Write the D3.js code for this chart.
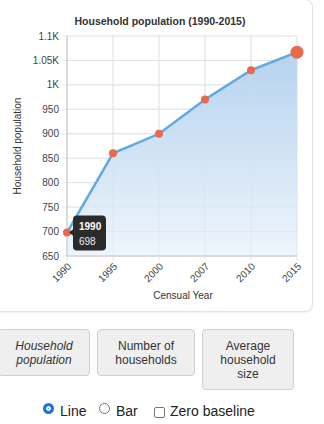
<!DOCTYPE html>
<html><head><meta charset="utf-8">
<script src="https://cdn.jsdelivr.net/npm/d3@7"></script>
<style>
html,body{margin:0;padding:0;background:#fff;width:324px;height:424px;overflow:hidden;font-family:"Liberation Sans",Arial,sans-serif;}
#card{position:absolute;left:-8px;top:-1px;width:319px;height:311px;border:1px solid #e3e3e3;border-radius:8px;background:#fff;box-shadow:0 1px 2px rgba(0,0,0,0.06);}
#chart{position:absolute;left:0;top:0;}
.btn{position:absolute;box-sizing:border-box;background:#efefef;border:1px solid #cfcfcf;border-radius:4px;font-size:12px;color:#333;text-align:center;line-height:14px;display:flex;align-items:center;justify-content:center;}
#ctrls{position:absolute;top:402px;left:0;width:324px;font-size:14px;color:#222;}
#ctrls span{position:absolute;top:0;}
.radio{position:absolute;width:11px;height:11px;border-radius:50%;box-sizing:border-box;}
</style></head>
<body>
<div id="card"></div>
<svg id="chart" width="324" height="320"></svg>
<div class="btn" style="left:-2px;top:329px;width:92px;height:47px;font-style:italic;">Household<br>population</div>
<div class="btn" style="left:97px;top:329px;width:98px;height:47px;">Number of<br>households</div>
<div class="btn" style="left:202px;top:329px;width:92px;height:61px;">Average<br>household<br>size</div>
<div id="ctrls">
  <div class="radio" style="left:43px;top:1px;background:#1a73e8;border:3px solid #1a73e8;box-shadow:inset 0 0 0 2px #fff;"></div>
  <span style="left:60px;top:1px;">Line</span>
  <div class="radio" style="left:99px;top:1px;border:1px solid #767676;background:#fff;"></div>
  <span style="left:116px;top:1px;">Bar</span>
  <div style="position:absolute;left:154px;top:5px;width:11px;height:11px;border:1px solid #767676;border-radius:2px;box-sizing:border-box;background:#fff;"></div>
  <span style="left:170px;top:1px;">Zero baseline</span>
</div>
<script>
const years = ["1990","1995","2000","2007","2010","2015"];
const population = [698, 860, 900, 970, 1030, 1067];
const yTicks = [650, 700, 750, 800, 850, 900, 950, 1000, 1050, 1100];
const titleText = "Household population (1990-2015)";
const yLabel = "Household population";
const xLabel = "Censual Year";

const svg = d3.select("#chart");
const pL = 67, pR = 297, pT = 36, pB = 256;
const x = d3.scalePoint().domain(years).range([pL, pR]);
const y = d3.scaleLinear().domain([650, 1100]).range([pB, pT]);
const fmt = d => d >= 1000 ? d3.format("~s")(d).toUpperCase() : String(d);

const defs = svg.append("defs");
const grad = defs.append("linearGradient").attr("id","ag").attr("x1",0).attr("y1",0).attr("x2",0).attr("y2",1);
grad.append("stop").attr("offset","0%").attr("stop-color","#b5d3ef");
grad.append("stop").attr("offset","100%").attr("stop-color","#eef5fc");

// grid (with small outer ticks)
svg.append("g").selectAll("line").data(yTicks).join("line")
  .attr("x1", pL-5).attr("x2", pR).attr("y1", d=>y(d)).attr("y2", d=>y(d))
  .attr("stroke","#e6e6e6").attr("stroke-width",1);
svg.append("g").selectAll("line").data(years).join("line")
  .attr("x1", d=>x(d)).attr("x2", d=>x(d)).attr("y1", pT).attr("y2", pB+5)
  .attr("stroke","#e6e6e6").attr("stroke-width",1);

const data = years.map((yr,i)=>({yr, v:population[i]}));
svg.append("path").datum(data)
  .attr("d", d3.area().x(d=>x(d.yr)).y0(pB).y1(d=>y(d.v)))
  .attr("fill","url(#ag)");
// grid over area (faint)
svg.append("g").selectAll("line").data(yTicks).join("line")
  .attr("x1", pL).attr("x2", pR).attr("y1", d=>y(d)).attr("y2", d=>y(d))
  .attr("stroke","#d8dde3").attr("stroke-opacity",0.45);
svg.append("g").selectAll("line").data(years).join("line")
  .attr("x1", d=>x(d)).attr("x2", d=>x(d)).attr("y1", pT).attr("y2", pB)
  .attr("stroke","#d8dde3").attr("stroke-opacity",0.45);

// axes lines
svg.append("line").attr("x1",pL).attr("x2",pL).attr("y1",pT).attr("y2",pB).attr("stroke","#c8c8c8");
svg.append("line").attr("x1",pL).attr("x2",pR).attr("y1",pB).attr("y2",pB).attr("stroke","#c8c8c8");

// y ticks
svg.append("g").selectAll("text").data(yTicks).join("text")
  .attr("x", pL-8).attr("y", d=>y(d)).attr("dy","0.35em")
  .attr("text-anchor","end").attr("font-size","10px").attr("fill","#444")
  .text(fmt);
// x ticks
svg.append("g").selectAll("text").data(years).join("text")
  .attr("transform", d=>`translate(${x(d)},${pB+6}) rotate(-45)`)
  .attr("text-anchor","end").attr("dy","0.7em").attr("font-size","10px").attr("fill","#444")
  .text(d=>d);

// line
svg.append("path").datum(data)
  .attr("d", d3.line().x(d=>x(d.yr)).y(d=>y(d.v)))
  .attr("fill","none").attr("stroke","#62a9df").attr("stroke-width",2.5);

// dots
svg.append("g").selectAll("circle").data(data).join("circle")
  .attr("cx", d=>x(d.yr)).attr("cy", d=>y(d.v))
  .attr("r", (d,i)=> i===data.length-1 ? 6.5 : 4)
  .attr("fill","#e9694b");

// titles
svg.append("text").attr("x",160).attr("y",25).attr("text-anchor","middle")
  .attr("font-size","10.5px").attr("font-weight","bold").attr("fill","#333").text(titleText);
svg.append("text").attr("transform",`translate(21,146) rotate(-90)`).attr("text-anchor","middle")
  .attr("font-size","10px").attr("fill","#333").text(yLabel);
svg.append("text").attr("x",183).attr("y",299).attr("text-anchor","middle")
  .attr("font-size","10px").attr("fill","#333").text(xLabel);

// tooltip
const d0 = data[0];
const tx = x(d0.yr)+6, ty = y(d0.v);
const tt = svg.append("g");
tt.append("rect").attr("x",tx).attr("y",ty-17).attr("width",33).attr("height",35).attr("rx",4).attr("fill","#2b2b2b");
tt.append("path").attr("d",`M${tx-4},${ty} L${tx+1},${ty-4} L${tx+1},${ty+4} Z`).attr("fill","#2b2b2b");
tt.append("text").attr("x",tx+6).attr("y",ty-3).attr("font-size","10px").attr("font-weight","bold").attr("fill","#fff").text(d0.yr);
tt.append("text").attr("x",tx+6).attr("y",ty+12).attr("font-size","10px").attr("fill","#eee").text(d0.v);
</script>
</body></html>
